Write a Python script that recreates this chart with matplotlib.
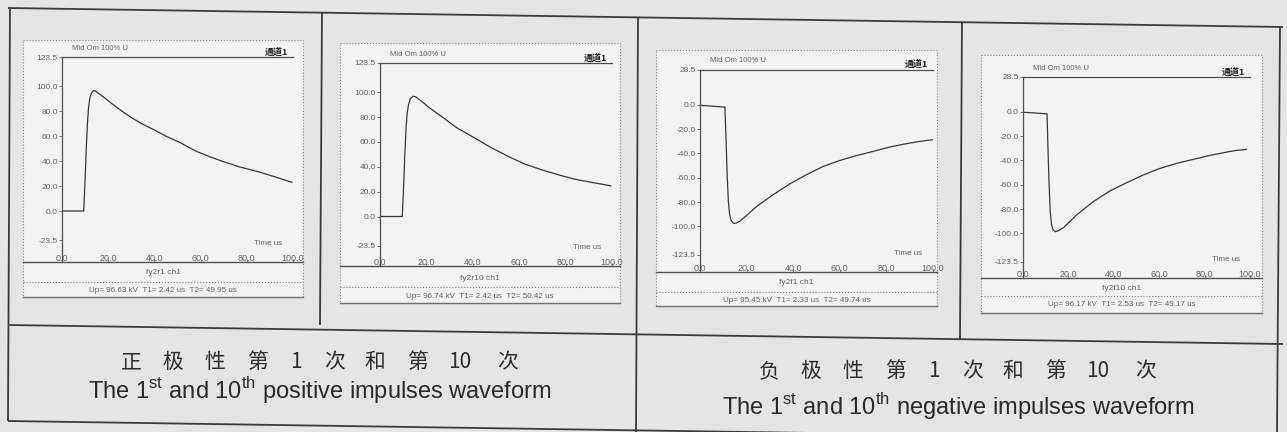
import matplotlib
matplotlib.use("Agg")
import matplotlib.pyplot as plt
from matplotlib.patches import Rectangle

# ---------------- data ----------------
t_r1 = [0, 9.4, 10.0, 10.5, 11.0, 11.5, 12.0, 12.7, 13.5, 14.5, 16, 18, 22, 26, 30, 35, 40, 45, 51, 58, 64, 70, 77, 85, 92, 99.5]
v_r1 = [0, 0, 25, 50, 70, 83, 90, 94.5, 96.6, 96.3, 94, 91.4, 85.5, 80, 75, 69.5, 65, 60, 55, 48, 43.5, 39.5, 35.3, 31.5, 27.5, 23]

t_r10 = [0, 9.6, 10.2, 10.7, 11.2, 11.7, 12.3, 13.0, 14.2, 15.5, 18, 22, 26.6, 33, 41, 48, 55.4, 62, 69.8, 77, 84, 92, 99.5]
v_r10 = [0, 0, 25, 50, 70, 83, 90, 94.5, 96.7, 96.2, 92.5, 86.5, 80.4, 71.5, 63, 55.3, 48.3, 42.5, 37.5, 33.5, 30, 27.2, 24.7]

t_f1 = [0, 5, 10.7, 11.2, 11.7, 12.2, 12.7, 13.3, 14.3, 15.5, 17, 20, 24.3, 31.4, 38.6, 45.7, 52.9, 60, 67, 74.3, 81.4, 88.6, 94, 99.7]
v_f1 = [-0.5, -1.2, -2.0, -30, -60, -80, -90, -95, -97.5, -97.3, -95.9, -91, -83.6, -74, -65, -57.5, -50.7, -45.8, -41.9, -38.4, -34.8, -32, -30.3, -28.8]

t_f10 = [0, 5, 10.6, 11.0, 11.5, 12.0, 12.5, 13.2, 14.2, 15.5, 18, 23.5, 30.9, 38.2, 45.6, 53, 60.3, 67.6, 75, 82.4, 89.7, 94, 98.5]
v_f10 = [-0.5, -1.0, -1.8, -30, -60, -82, -92, -97, -98.6, -98, -95, -85, -74, -65.2, -58.4, -52, -46.6, -42.5, -39.2, -35.9, -33.2, -31.8, -31]

names = ["fy2r1 ch1", "fy2r10 ch1", "fy2f1 ch1", "fy2f10 ch1"]
params = ["Up= 96.63 kV  T1= 2.42 us  T2= 49.95 us",
          "Up= 96.74 kV  T1= 2.42 us  T2= 50.42 us",
          "Up= 95.45 kV  T1= 2.33 us  T2= 49.74 us",
          "Up= 96.17 kV  T1= 2.53 us  T2= 49.17 us"]
header_left = "Mid Om 100% U"
header_right = "通道1"
time_label = "Time us"
x_ticks = [0, 20, 40, 60, 80, 100]
pos_yticks = [123.5, 100, 80, 60, 40, 20, 0, -23.5]
neg_yticks = [28.5, 0, -20, -40, -60, -80, -100, -123.5]

title_cn = ["正 极 性 第 1 次 和 第 10 次", "负 极 性 第 1 次 和 第 10 次"]
title_en = [r"The 1$^{\mathrm{st}}$ and 10$^{\mathrm{th}}$ positive impulses waveform",
            r"The 1$^{\mathrm{st}}$ and 10$^{\mathrm{th}}$ negative impulses waveform"]

series = [(t_r1, v_r1, pos_yticks), (t_r10, v_r10, pos_yticks),
          (t_f1, v_f1, neg_yticks), (t_f10, v_f10, neg_yticks)]

# ---------------- style / layout ----------------
plt.rcParams["font.family"] = ["Liberation Sans", "Noto Sans CJK SC", "DejaVu Sans"]
plt.rcParams["mathtext.fontset"] = "custom"
plt.rcParams["mathtext.rm"] = "Liberation Sans"

W, H = 1287, 432
PAPER = "#e4e4e2"
PANEL = "#f3f3f2"
INK = "#3a3a3a"
SOFT = "#666666"

fig = plt.figure(figsize=(W / 100, H / 100), dpi=100, facecolor=PAPER)
bg = fig.add_axes([0, 0, 1, 1])
bg.set_xlim(0, W)
bg.set_ylim(H, 0)
bg.axis("off")
bg.set_zorder(0)

# table lines (scan is slightly rotated)
table_lines = [((8, 8), (1283, 27)), ((10, 8), (8, 421)), ((8, 325), (1283, 344)),
               ((8, 421), (1283, 440)), ((322, 13), (320, 325)), ((638, 17), (636, 432)),
               ((962, 22), (960, 339)), ((1280, 27), (1277, 432))]
for (x0, y0), (x1, y1) in table_lines:
    bg.plot([x0, x1], [y0, y1], color=INK, lw=1.3, solid_capstyle="butt")

panels = [
    dict(frame=(23, 40, 303, 297), ax=(62, 57, 293, 262), ppu=1.247, hdr=48, f1=273, fd=282, f2=291),
    dict(frame=(340, 43, 620, 303), ax=(380, 63, 612, 266), ppu=1.243, hdr=54, f1=278, fd=287, f2=296),
    dict(frame=(656, 50, 937, 306), ax=(700, 70, 933, 272), ppu=1.217, hdr=60, f1=283, fd=292, f2=300),
    dict(frame=(981, 55, 1262, 313), ax=(1023, 77, 1250, 278), ppu=1.217, hdr=68, f1=289, fd=296, f2=305),
]

for p, (t, v, yt), nm, pr in zip(panels, series, names, params):
    fx0, fy0, fx1, fy1 = p["frame"]
    bg.add_patch(Rectangle((fx0, fy0), fx1 - fx0, fy1 - fy0, facecolor=PANEL,
                           edgecolor="#8a8a8a", lw=0.8, ls=":"))
    l, tp, r, b = p["ax"]
    # baseline and footer separators
    bg.plot([fx0, fx1], [b, b], color="#505050", lw=1.0)
    bg.plot([fx0, fx1], [p["fd"], p["fd"]], color="#808080", lw=0.8, ls=":")
    bg.plot([fx0, fx1], [fy1, fy1], color="#707070", lw=1.0)
    cx = (fx0 + fx1) / 2
    bg.text(cx, p["f1"], nm, fontsize=6, color=SOFT, ha="center", va="center")
    bg.text(cx, p["f2"], pr, fontsize=5.8, color=SOFT, ha="center", va="center")
    bg.text(l + 10, p["hdr"], header_left, fontsize=5.5, color=SOFT, ha="left", va="center")
    bg.text(r - 5, p["hdr"] + 4, header_right, fontsize=6.5, color="#222222", ha="right",
            va="center", fontweight="bold", family=["Noto Sans CJK SC", "DejaVu Sans"])

    ax = fig.add_axes([l / W, 1 - b / H, (r - l) / W, (b - tp) / H])
    ax.set_zorder(2)
    ax.patch.set_alpha(0)
    yhi = yt[0]
    ax.set_ylim(yhi - (b - tp) / p["ppu"], yhi)
    ax.set_xlim(0, 100)
    ax.plot(t, v, color="#383838", lw=0.9)
    for s in ("right", "bottom"):
        ax.spines[s].set_visible(False)
    for s in ("left", "top"):
        ax.spines[s].set_color("#505050")
        ax.spines[s].set_linewidth(0.9)
    ax.set_yticks(yt)
    ax.set_yticklabels([f"{y:.1f}" for y in yt])
    ax.set_xticks(x_ticks)
    ax.set_xticklabels([f"{x:.1f}" for x in x_ticks])
    ax.tick_params(axis="y", length=2, width=0.6, pad=1, labelsize=6,
                   labelcolor=SOFT, color="#606060")
    ax.tick_params(axis="x", direction="in", length=2, width=0.6, pad=-6, labelsize=6.5,
                   labelcolor=SOFT, color="#606060")
    ax.text(0.955, 0.09, time_label, transform=ax.transAxes, fontsize=5.8,
            color=SOFT, ha="right", va="center")

# bottom captions
cn_offsets = [-189, -147, -105, -62, -24, 15, 55, 97, 140, 188]
caption_pos = [(320, 362, 391), (958, 371, 407)]
for (cxp, ycn, yen), cn, en in zip(caption_pos, title_cn, title_en):
    for tok, dx in zip(cn.split(" "), cn_offsets):
        bg.text(cxp + dx, ycn, tok, fontsize=15, color="#2e2e2e", ha="center", va="center",
                family=["Noto Sans CJK SC", "DejaVu Sans"])
    bg.text(cxp, yen, en, fontsize=17, color="#2a2a2a", ha="center", va="center")

fig.savefig("out.png", dpi=100, facecolor=PAPER)
